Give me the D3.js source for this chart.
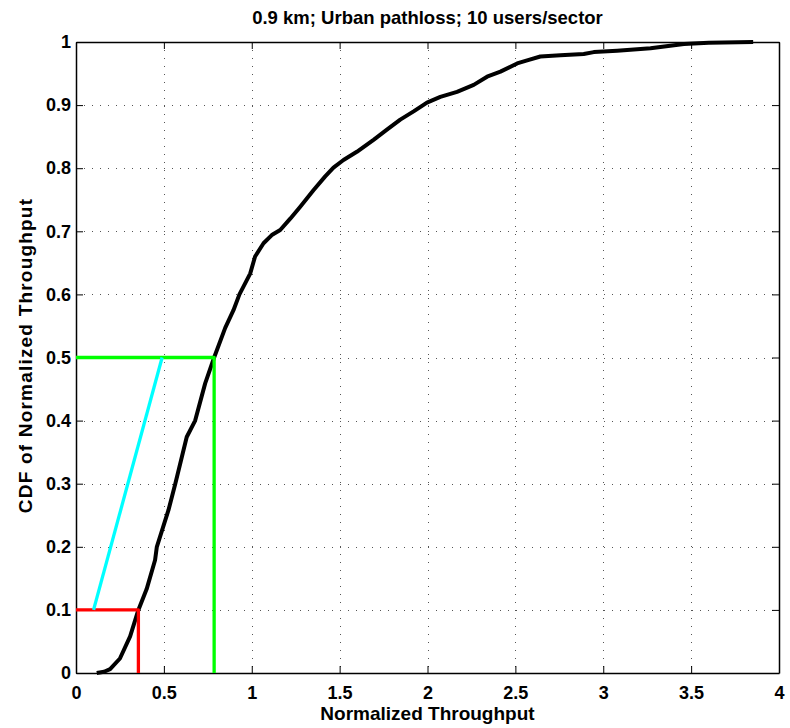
<!DOCTYPE html>
<html lang='en'>
  <head>
    <meta charset='utf-8'>
    <title>CDF of Normalized Throughput</title>
    <script src='https://d3js.org/d3.v7.min.js'></script>
    <style>
      html, body {
        margin: 0;
        padding: 0;
        background: #fff;
      }
      text {
        font-family: 'Liberation Sans', Arial, sans-serif;
        font-weight: bold;
      }
    </style>
  </head>
  <body>
    <div class='vis'></div>

    <script>
      // curve
      const throughput = [0.118, 0.16, 0.194, 0.25, 0.308, 0.355, 0.402, 0.45, 0.46, 0.526, 0.565,
        0.63, 0.678, 0.735, 0.786, 0.849, 0.896, 0.93, 0.991, 1.019, 1.067, 1.114, 1.162, 1.219,
        1.276, 1.351, 1.418, 1.465, 1.522, 1.598, 1.693, 1.769, 1.845, 1.921, 1.997, 2.073, 2.168,
        2.263, 2.339, 2.415, 2.51, 2.567, 2.642, 2.756, 2.889, 2.946, 3.079, 3.269, 3.459, 3.6, 3.853];
      const cdf = [0, 0.002, 0.006, 0.023, 0.058, 0.1, 0.133, 0.179, 0.2, 0.258, 0.3,
        0.374, 0.4, 0.459, 0.5, 0.547, 0.575, 0.6, 0.633, 0.66, 0.681, 0.694, 0.702, 0.72,
        0.739, 0.765, 0.787, 0.801, 0.813, 0.826, 0.845, 0.861, 0.877, 0.89, 0.904, 0.913, 0.921,
        0.932, 0.945, 0.953, 0.966, 0.971, 0.977, 0.979, 0.981, 0.984, 0.986, 0.99, 0.997, 0.999, 1];

      // marker lines: [x, y] pairs
      const redLine = [[0, 0.1], [0.355, 0.1], [0.355, 0]];
      const greenLine = [[0, 0.5], [0.786, 0.5], [0.786, 0]];
      const cyanLine = [[0.1, 0.1], [0.49, 0.5]];

      const xTicks = [0, 0.5, 1, 1.5, 2, 2.5, 3, 3.5, 4];
      const yTicks = [0, 0.1, 0.2, 0.3, 0.4, 0.5, 0.6, 0.7, 0.8, 0.9, 1];

      const titleText = '0.9 km; Urban pathloss; 10 users/sector';
      const xLabel = 'Normalized Throughput';
      const yLabel = 'CDF of Normalized Throughput';

      // svg boundaries
      const width = 790, height = 728;
      const margin = {top: 42, right: 11, bottom: 55, left: 76};
      const plotW = width - margin.left - margin.right;
      const plotH = height - margin.top - margin.bottom;

      const xScale = d3.scaleLinear().domain([0, 4]).range([0, plotW]);
      const yScale = d3.scaleLinear().domain([0, 1]).range([plotH, 0]);

      const svg = d3.select('.vis')
        .append('svg')
          .attr('width', width)
          .attr('height', height);

      const g = svg.append('g')
        .attr('transform', 'translate(' + margin.left + ',' + margin.top + ')');

      // dotted grid
      g.append('g').selectAll('line')
        .data(xTicks.slice(1, -1)).enter()
        .append('line')
          .attr('x1', (d) => Math.round(xScale(d)) + 0.5)
          .attr('x2', (d) => Math.round(xScale(d)) + 0.5)
          .attr('y1', 0)
          .attr('y2', plotH)
          .attr('stroke', '#555')
          .attr('stroke-dasharray', '1,7');
      g.append('g').selectAll('line')
        .data(yTicks.slice(1, -1)).enter()
        .append('line')
          .attr('x1', 0)
          .attr('x2', plotW)
          .attr('y1', (d) => Math.round(yScale(d)) + 0.5)
          .attr('y2', (d) => Math.round(yScale(d)) + 0.5)
          .attr('stroke', '#555')
          .attr('stroke-dasharray', '1,7');

      // axes, ticks pointing in
      const fmt = (d) => d3.format('')(d);
      const tickLen = 7;
      g.append('g')
        .attr('transform', 'translate(0,' + plotH + ')')
        .call(d3.axisBottom(xScale).tickValues(xTicks).tickFormat(fmt).tickSizeInner(-tickLen).tickSizeOuter(0).tickPadding(13))
        .call((a) => a.selectAll('text').style('font-size', '18px').attr('fill', '#000'));
      g.append('g')
        .call(d3.axisLeft(yScale).tickValues(yTicks).tickFormat(fmt).tickSizeInner(-tickLen).tickSizeOuter(0).tickPadding(5))
        .call((a) => a.selectAll('text').style('font-size', '18px').attr('fill', '#000'));
      g.append('g')
        .call(d3.axisTop(xScale).tickValues(xTicks).tickFormat('').tickSizeInner(-tickLen).tickSizeOuter(0));
      g.append('g')
        .attr('transform', 'translate(' + plotW + ',0)')
        .call(d3.axisRight(yScale).tickValues(yTicks).tickFormat('').tickSizeInner(-tickLen).tickSizeOuter(0));

      g.selectAll('.domain').attr('stroke', '#000').attr('stroke-width', 1.5);
      g.selectAll('.tick line').attr('stroke', '#000');

      // lines
      const line = d3.line()
        .x((d) => xScale(d[0]))
        .y((d) => yScale(d[1]));

      const drawLine = (pts, color, w) => g.append('path')
        .datum(pts)
        .attr('d', line)
        .attr('fill', 'none')
        .attr('stroke', color)
        .attr('stroke-width', w)
        .attr('stroke-linejoin', 'round');

      drawLine(d3.zip(throughput, cdf), '#000', 4);
      drawLine(redLine, '#ff0000', 3.3);
      drawLine(greenLine, '#00ff00', 3.3);
      drawLine(cyanLine, '#00ffff', 3.3);

      // labels
      svg.append('text')
        .attr('x', margin.left + plotW / 2)
        .attr('y', 24)
        .attr('text-anchor', 'middle')
        .style('font-size', '18.5px')
        .text(titleText);
      svg.append('text')
        .attr('x', margin.left + plotW / 2)
        .attr('y', 720)
        .attr('text-anchor', 'middle')
        .style('font-size', '19px')
        .text(xLabel);
      svg.append('text')
        .attr('transform', 'translate(32,' + (margin.top + plotH / 2 - 2) + ') rotate(-90)')
        .attr('text-anchor', 'middle')
        .style('font-size', '19px')
        .style('letter-spacing', '1.2px')
        .text(yLabel);
    </script>
  </body>
</html>
